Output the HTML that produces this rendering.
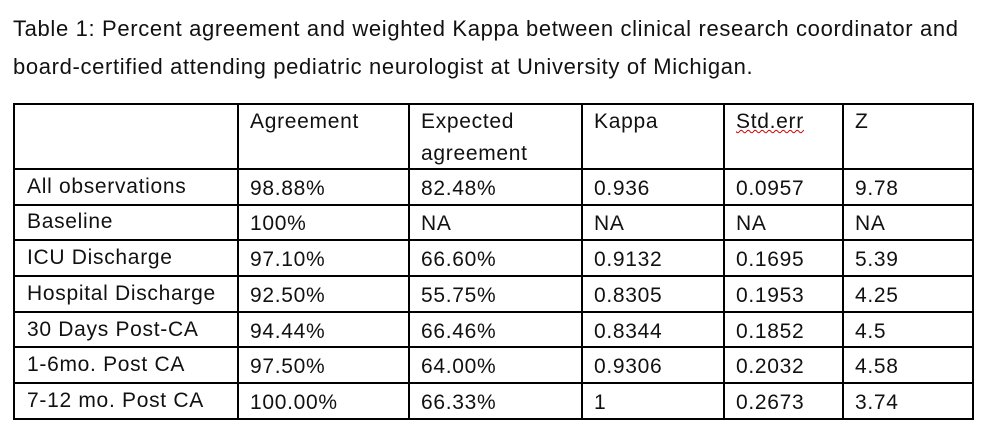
<!DOCTYPE html>
<html><head><style>
body{margin:0;width:989px;height:431px;background:#fff;position:relative;overflow:hidden;font-family:"Liberation Sans",sans-serif;color:#111}
.t{position:absolute;font-size:21px;letter-spacing:0.7px;white-space:nowrap;line-height:24px}
.ti{position:absolute;font-size:22px;letter-spacing:0.65px;white-space:nowrap;line-height:26px}
.h{position:absolute;background:#000}
</style></head><body>
<div class="ti" style="left:13px;top:16px">Table 1: Percent agreement and weighted Kappa between clinical research coordinator and</div>
<div class="ti" style="left:13px;top:54px">board-certified attending pediatric neurologist at University of Michigan.</div>
<div class="h" style="left:13px;top:103px;width:961px;height:2px"></div>
<div class="h" style="left:13px;top:168px;width:961px;height:2px"></div>
<div class="h" style="left:13px;top:204px;width:961px;height:2px"></div>
<div class="h" style="left:13px;top:239px;width:961px;height:2px"></div>
<div class="h" style="left:13px;top:275px;width:961px;height:2px"></div>
<div class="h" style="left:13px;top:311px;width:961px;height:2px"></div>
<div class="h" style="left:13px;top:346px;width:961px;height:2px"></div>
<div class="h" style="left:13px;top:382px;width:961px;height:2px"></div>
<div class="h" style="left:13px;top:418px;width:961px;height:2px"></div>
<div class="h" style="left:13px;top:103px;width:2px;height:317px"></div>
<div class="h" style="left:237px;top:103px;width:2px;height:317px"></div>
<div class="h" style="left:408px;top:103px;width:2px;height:317px"></div>
<div class="h" style="left:581px;top:103px;width:2px;height:317px"></div>
<div class="h" style="left:723px;top:103px;width:2px;height:317px"></div>
<div class="h" style="left:842px;top:103px;width:2px;height:317px"></div>
<div class="h" style="left:972px;top:103px;width:2px;height:317px"></div>
<div class="t" style="left:250px;top:110px">Agreement</div>
<div class="t" style="left:421px;top:110px">Expected</div>
<div class="t" style="left:421px;top:142px">agreement</div>
<div class="t" style="left:594px;top:110px">Kappa</div>
<div class="t" style="left:736px;top:110px;text-decoration:underline wavy #c00;text-decoration-thickness:1px">Std.err</div>
<div class="t" style="left:855px;top:110px">Z</div>
<div class="t" style="left:27px;top:175px">All observations</div>
<div class="t" style="left:250px;top:177px">98.88%</div><div class="t" style="left:421px;top:177px">82.48%</div><div class="t" style="left:594px;top:177px">0.936</div><div class="t" style="left:736px;top:177px">0.0957</div><div class="t" style="left:855px;top:177px">9.78</div>
<div class="t" style="left:27px;top:210px">Baseline</div>
<div class="t" style="left:250px;top:212px">100%</div><div class="t" style="left:421px;top:212px">NA</div><div class="t" style="left:594px;top:212px">NA</div><div class="t" style="left:736px;top:212px">NA</div><div class="t" style="left:855px;top:212px">NA</div>
<div class="t" style="left:27px;top:246px">ICU Discharge</div>
<div class="t" style="left:250px;top:248px">97.10%</div><div class="t" style="left:421px;top:248px">66.60%</div><div class="t" style="left:594px;top:248px">0.9132</div><div class="t" style="left:736px;top:248px">0.1695</div><div class="t" style="left:855px;top:248px">5.39</div>
<div class="t" style="left:27px;top:282px">Hospital Discharge</div>
<div class="t" style="left:250px;top:284px">92.50%</div><div class="t" style="left:421px;top:284px">55.75%</div><div class="t" style="left:594px;top:284px">0.8305</div><div class="t" style="left:736px;top:284px">0.1953</div><div class="t" style="left:855px;top:284px">4.25</div>
<div class="t" style="left:27px;top:318px">30 Days Post-CA</div>
<div class="t" style="left:250px;top:320px">94.44%</div><div class="t" style="left:421px;top:320px">66.46%</div><div class="t" style="left:594px;top:320px">0.8344</div><div class="t" style="left:736px;top:320px">0.1852</div><div class="t" style="left:855px;top:320px">4.5</div>
<div class="t" style="left:27px;top:353px">1-6mo. Post CA</div>
<div class="t" style="left:250px;top:355px">97.50%</div><div class="t" style="left:421px;top:355px">64.00%</div><div class="t" style="left:594px;top:355px">0.9306</div><div class="t" style="left:736px;top:355px">0.2032</div><div class="t" style="left:855px;top:355px">4.58</div>
<div class="t" style="left:27px;top:389px">7-12 mo. Post CA</div>
<div class="t" style="left:250px;top:391px">100.00%</div><div class="t" style="left:421px;top:391px">66.33%</div><div class="t" style="left:594px;top:391px">1</div><div class="t" style="left:736px;top:391px">0.2673</div><div class="t" style="left:855px;top:391px">3.74</div>
</body></html>
